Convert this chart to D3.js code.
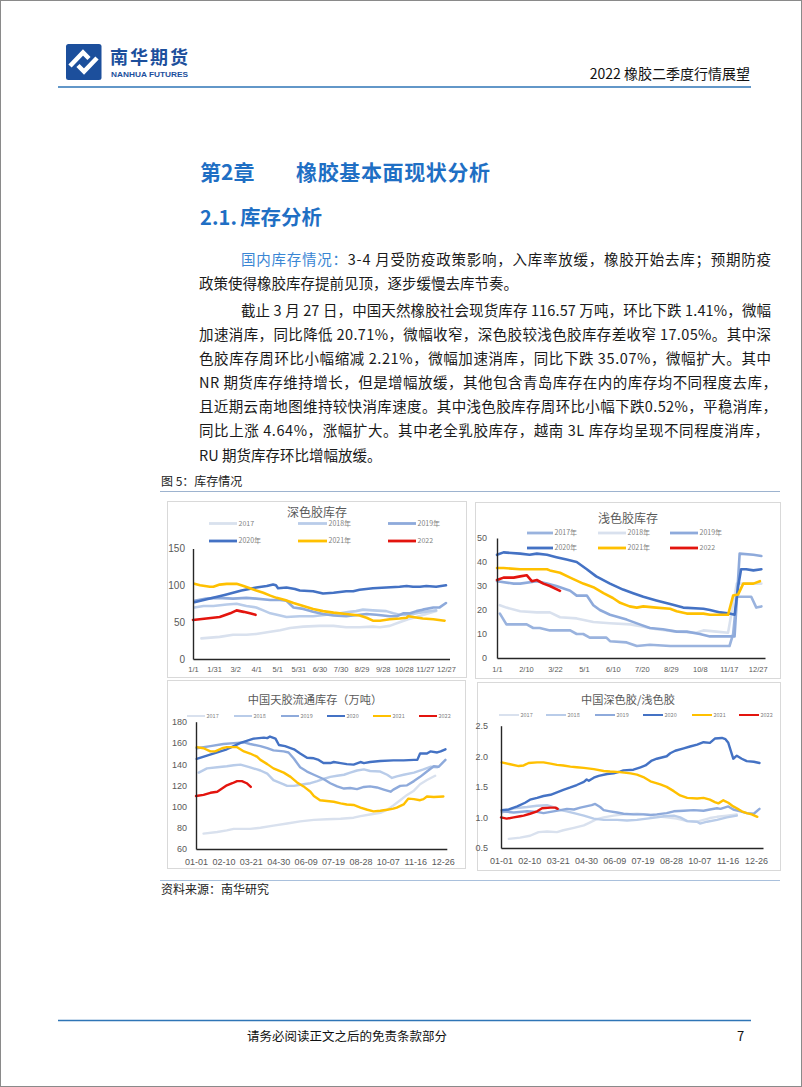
<!DOCTYPE html>
<html><head><meta charset="utf-8">
<script src="https://cdn.jsdelivr.net/npm/d3@7"></script>
<style>body{margin:0;background:#fff} svg{display:block}</style>
</head><body>
<svg id="page" width="802" height="1087"></svg>
<script>
// ---------- chart 1: 深色胶库存 (day of year, value) ----------
const dark2017 = [[12,28],[38,30],[57,33],[76,33],[90,34],[110,37],[124,39],[138,42],[157,44],[180,45],[200,45],[218,43],[237,43],[256,44],[266,43],[280,45],[294,50],[306,54],[318,57],[332,61],[346,65]];
const dark2018 = [[2,70],[15,72],[29,72],[48,74],[62,75],[76,72],[90,70],[100,66],[110,62],[124,59],[133,57],[152,58],[171,58],[190,60],[209,62],[223,64],[232,65],[242,67],[256,66],[275,65],[285,62],[294,60],[309,60],[323,63],[337,65],[346,66]];
const dark2019 = [[2,79],[19,82],[34,83],[57,82],[76,83],[90,82],[110,80],[124,80],[133,79],[143,70],[157,68],[171,64],[185,61],[200,59],[218,58],[237,60],[247,61],[261,60],[280,58],[290,58],[299,62],[309,62],[318,65],[327,67],[342,70],[351,70],[360,76]];
const dark2020 = [[2,77],[24,82],[45,87],[57,90],[69,93],[90,97],[105,99],[114,101],[118,100],[121,96],[133,97],[145,95],[152,93],[171,92],[185,89],[200,90],[218,92],[228,92],[237,94],[256,96],[275,97],[294,98],[304,99],[313,98],[323,98],[332,99],[346,98],[360,100]];
const dark2021 = [[2,102],[10,100],[24,98],[29,98],[38,101],[48,102],[62,102],[72,99],[81,96],[90,93],[100,90],[110,86],[119,83],[131,80],[143,76],[157,72],[171,68],[185,65],[200,63],[218,61],[237,59],[247,56],[256,52],[266,52],[280,54],[294,55],[304,56],[306,58],[313,57],[327,55],[342,54],[358,52]];
const dark2022 = [[0,53],[19,55],[38,57],[53,62],[62,66],[72,64],[81,62],[89,60]];
const darkTickDays = [0,30,60,90,120,150,180,210,240,270,300,330,360];
const darkTickLabels = ['1/1','1/31','3/2','4/1','5/1','5/31','6/30','7/30','8/29','9/28','10/28','11/27','12/27'];
const darkYTicks = [0,50,100,150];

// ---------- chart 2: 浅色胶库存 ----------
const light2017 = [[4,18.5],[13,14],[41,14],[50,12.5],[59,12.5],[73,11.5],[101,11.5],[110,10],[119,10],[128,8.5],[151,8.5],[156,7],[179,6.5],[193,5],[211,5.5],[239,5],[321,5],[326,10],[331,25.5],[351,25.5],[358,21],[365,21.5]];
const light2018 = [[4,22],[13,21],[32,19.5],[55,19],[73,19],[87,17],[110,16.5],[133,15],[156,14.5],[184,14],[202,13],[220,12],[248,11],[275,10.5],[285,11.5],[303,11],[319,10.5],[331,31],[354,31],[365,31]];
const light2019 = [[0,32],[23,31],[32,31],[55,32],[69,31],[82,30],[96,28.5],[101,28],[110,26],[124,26],[133,22],[142,20],[156,18],[179,16],[197,14],[211,12.5],[229,12],[248,11],[262,11],[280,10],[294,9],[321,9],[328,9],[335,43.5],[354,43],[365,42.5]];
const light2020 = [[0,43],[9,44],[32,43.5],[45,43],[55,43.5],[69,43],[82,42],[96,41],[110,40],[124,37],[137,34],[156,31],[174,28.5],[188,27],[202,25.5],[220,24],[239,22.5],[257,21],[285,20.5],[294,20],[308,19],[321,18.5],[328,18],[333,30],[337,37],[344,37],[354,36.5],[365,37]];
const light2021 = [[0,37.5],[9,37.5],[32,37],[55,37],[69,37],[73,36.5],[87,35.5],[101,33.5],[119,31],[133,29.5],[147,27],[160,25],[170,23],[183,21.5],[193,21],[202,21.5],[220,21],[239,20.5],[248,19.5],[262,18.5],[285,18.5],[294,18],[319,18],[326,26],[333,26.5],[340,31],[354,31],[363,32]];
const light2022 = [[0,32.5],[9,33.5],[23,33.5],[32,34],[41,34.5],[48,32],[55,32.5],[64,31],[73,30],[87,28]];
const lightTickDays = [0,40,80,120,160,200,240,280,320,360];
const lightTickLabels = ['1/1','2/10','3/22','5/1','6/10','7/20','8/29','10/8','11/17','12/27'];
const lightYTicks = [0,10,20,30,40,50];

// ---------- chart 3: 中国天胶流通库存（万吨） ----------
const total2017 = [[11,74.5],[31,76],[45,77.5],[55,79],[79,79],[94,80],[113,82],[133,84],[152,86],[172,87.5],[191,88],[211,88.5],[230,89.5],[240,91],[254,92.5],[269,94],[279,97],[288,101],[298,106],[308,111],[318,115],[327,121],[337,125],[349,129]];
const total2018 = [[4,132],[16,136],[31,137],[45,138],[55,139],[65,139.5],[79,137],[89,135],[94,134],[104,131],[113,125],[128,121],[133,119.5],[143,119.5],[157,121],[167,122],[177,124],[186,126],[196,128],[206,129],[216,130],[225,132],[235,134],[245,135],[254,133.5],[269,133],[279,130],[286,127],[293,128.5],[303,130],[318,132],[332,135],[342,137.5],[352,137]];
const total2019 = [[1,155],[21,157],[40,159],[60,160],[70,160.5],[79,159],[94,157],[104,155],[113,153],[128,152],[135,151],[143,145],[152,137],[162,133],[172,130],[186,126],[196,122],[206,119],[216,117],[225,117.5],[235,116.5],[245,118.5],[254,119],[264,118],[274,116],[284,114],[288,116],[298,119.5],[308,120],[318,124],[327,128],[337,133],[347,138],[354,137.5],[364,144]];
const total2020 = [[1,145],[16,148],[31,151],[45,154],[55,157],[65,160],[74,162],[84,164],[99,165],[104,164.5],[108,166],[116,164],[121,158],[130,157],[143,154],[152,150],[162,146],[172,145.5],[179,144],[186,141],[196,141],[201,142],[211,141],[220,140],[230,139.5],[240,142],[245,141],[254,142],[269,143],[288,143.5],[303,143.5],[318,144],[323,144],[327,150],[337,150],[342,152],[352,151],[357,152],[364,154]];
const total2021 = [[1,156],[11,155],[21,152],[28,152],[38,155],[45,156],[60,156],[70,152],[79,150],[89,147],[94,144],[104,140],[113,136],[128,132],[138,128],[147,123],[157,119],[167,114],[172,110],[181,106],[201,104.5],[211,103],[220,102],[230,101.5],[240,99],[250,97],[259,95.5],[269,96],[279,97],[288,98],[293,99],[303,102],[310,107.5],[318,107],[327,106],[332,107],[337,109.5],[347,109],[361,109.5]];
const total2022 = [[0,110],[11,111],[21,113],[31,114],[38,117],[45,120],[53,122],[60,124],[67,124],[74,122],[80,118.5]];
const weekTickDays = [0,40,80,120,160,200,240,280,320,360];
const weekTickLabels = ['01-01','02-10','03-21','04-30','06-09','07-19','08-28','10-07','11-16','12-26'];
const totalYTicks = [60,80,100,120,140,160,180];

// ---------- chart 4: 中国深色胶/浅色胶 ----------
const ratio2017 = [[11,0.65],[27,0.67],[41,0.70],[53,0.76],[65,0.77],[79,0.76],[88,0.79],[103,0.83],[117,0.87],[126,0.92],[135,0.97],[145,1.00],[159,1.03],[173,1.05],[192,1.06],[206,1.05],[220,1.02],[234,1.00],[248,0.98],[263,0.94],[277,0.93],[286,0.96],[295,0.99],[305,1.01],[319,1.03],[333,1.05]];
const ratio2018 = [[1,1.08],[18,1.15],[37,1.17],[51,1.19],[65,1.20],[74,1.17],[84,1.12],[93,1.10],[103,1.07],[117,1.03],[131,0.98],[145,0.96],[164,0.96],[178,0.95],[192,0.96],[206,0.98],[220,1.00],[230,1.02],[244,1.03],[253,1.00],[263,0.94],[277,0.93],[281,0.90],[291,0.93],[305,0.96],[319,1.00],[333,1.03]];
const ratio2019 = [[1,1.10],[18,1.08],[37,1.10],[51,1.09],[60,1.07],[74,1.10],[84,1.12],[93,1.14],[103,1.13],[112,1.16],[128,1.20],[133,1.22],[140,1.17],[145,1.12],[154,1.10],[164,1.08],[173,1.06],[187,1.05],[201,1.05],[211,1.04],[220,1.05],[234,1.07],[244,1.10],[258,1.11],[272,1.12],[286,1.11],[295,1.13],[305,1.15],[310,1.14],[321,1.18],[328,1.13],[338,1.10],[347,1.07],[357,1.06],[365,1.14]];
const ratio2020 = [[1,1.12],[11,1.13],[23,1.18],[34,1.24],[41,1.29],[51,1.32],[60,1.35],[70,1.37],[79,1.41],[88,1.45],[98,1.49],[107,1.53],[117,1.58],[121,1.62],[124,1.60],[131,1.65],[138,1.68],[150,1.71],[159,1.72],[168,1.75],[173,1.77],[187,1.78],[197,1.82],[204,1.85],[213,1.93],[220,1.96],[234,2.00],[239,2.05],[246,2.09],[258,2.13],[267,2.16],[277,2.19],[286,2.23],[295,2.22],[302,2.29],[312,2.30],[317,2.28],[321,2.22],[328,1.96],[333,2.01],[340,1.96],[347,1.92],[357,1.91],[365,1.89]];
const ratio2021 = [[1,1.90],[13,1.87],[25,1.84],[32,1.85],[39,1.89],[51,1.90],[60,1.90],[70,1.88],[79,1.86],[88,1.85],[98,1.83],[107,1.82],[117,1.81],[131,1.79],[145,1.76],[154,1.75],[168,1.74],[183,1.72],[192,1.70],[201,1.66],[211,1.59],[225,1.54],[234,1.50],[244,1.43],[253,1.36],[263,1.32],[277,1.31],[286,1.32],[295,1.29],[302,1.25],[307,1.23],[314,1.28],[321,1.24],[328,1.18],[333,1.15],[340,1.10],[347,1.07],[354,1.05],[362,1.01]];
const ratio2022 = [[0,1.00],[8,0.98],[18,1.00],[27,1.02],[32,1.03],[41,1.06],[51,1.10],[58,1.15],[70,1.16],[77,1.16],[80,1.14]];
const ratioYTicks = [0.5,1.0,1.5,2.0,2.5];

// ---------- page text ----------
const paraLines = [
  {pre:'国内库存情况：', t:'3-4 月受防疫政策影响，入库率放缓，橡胶开始去库；预期防疫', indent:true, just:true},
  {t:'政策使得橡胶库存提前见顶，逐步缓慢去库节奏。'},
  {t:'截止 3 月 27 日，中国天然橡胶社会现货库存 116.57 万吨，环比下跌 1.41%，微幅', indent:true, just:true},
  {t:'加速消库，同比降低 20.71%，微幅收窄，深色胶较浅色胶库存差收窄 17.05%。其中深', just:true},
  {t:'色胶库存周环比小幅缩减 2.21%，微幅加速消库，同比下跌 35.07%，微幅扩大。其中', just:true},
  {t:'NR 期货库存维持增长，但是增幅放缓，其他包含青岛库存在内的库存均不同程度去库，', just:true, end:777},
  {t:'且近期云南地图维持较快消库速度。其中浅色胶库存周环比小幅下跌0.52%，平稳消库，', just:true, end:777},
  {t:'同比上涨 4.64%，涨幅扩大。其中老全乳胶库存，越南 3L 库存均呈现不同程度消库，', just:true, end:769},
  {t:'RU 期货库存环比增幅放缓。'}
];
const paraBaselines = [264.5,288.5,315.5,339.5,363.5,387.5,411.5,435.5,460.5];

const CJK = '"Noto Sans CJK SC","Noto Sans",sans-serif';
const NUM = '"Liberation Sans","DejaVu Sans",sans-serif';
const svg = d3.select('#page');

// page frame
svg.append('rect').attr('x',0.5).attr('y',0.5).attr('width',801).attr('height',1086)
  .attr('fill','#fff').attr('stroke','#8a8a8a').attr('stroke-width',1);

// header logo
const logo = svg.append('g');
logo.append('rect').attr('x',66).attr('y',44).attr('width',35.5).attr('height',36).attr('rx',2.5).attr('fill','#1c4f9c');
logo.append('path').attr('d','M70,66 L83,52.5 L89,58.5').attr('fill','none').attr('stroke','#fff').attr('stroke-width',4.5);
logo.append('path').attr('d','M97,58 L84,71.5 L78,65.5').attr('fill','none').attr('stroke','#fff').attr('stroke-width',4.5);
svg.append('text').attr('x',110).attr('y',63.5).attr('font-family',CJK).attr('font-size',18)
  .attr('font-weight',700).attr('fill','#1c4f9c').attr('textLength',78).text('南华期货');
svg.append('text').attr('x',111).attr('y',77).attr('font-family',NUM).attr('font-size',7.5).attr('font-weight',700)
  .attr('fill','#1c4f9c').attr('textLength',77).attr('lengthAdjust','spacingAndGlyphs').text('NANHUA FUTURES');
svg.append('text').attr('x',750).attr('y',79).attr('text-anchor','end').attr('font-family',CJK)
  .attr('font-size',14).attr('fill','#111').text('2022 橡胶二季度行情展望');
svg.append('line').attr('x1',58).attr('x2',751).attr('y1',87).attr('y2',87).attr('stroke','#2e75b6').attr('stroke-width',1.5);

// headings
const HBLUE = '#1f6fc4';
svg.append('text').attr('x',200).attr('y',180).attr('font-family',CJK).attr('font-size',21)
  .attr('font-weight',700).attr('fill',HBLUE).text('第2章');
svg.append('text').attr('x',296).attr('y',180).attr('font-family',CJK).attr('font-size',21)
  .attr('font-weight',700).attr('fill',HBLUE).attr('textLength',194).text('橡胶基本面现状分析');
svg.append('text').attr('x',200).attr('y',225).attr('font-family',CJK).attr('font-size',20)
  .attr('font-weight',700).attr('fill',HBLUE).attr('textLength',37).text('2.1.');
svg.append('text').attr('x',240).attr('y',225).attr('font-family',CJK).attr('font-size',20.5)
  .attr('font-weight',700).attr('fill',HBLUE).text('库存分析');

// paragraph
paraLines.forEach((ln,i)=>{
  const x0 = ln.indent ? 241 : 199;
  const t = svg.append('text').attr('x',x0).attr('y',paraBaselines[i]).attr('font-family',CJK)
    .attr('font-size',14.5).attr('fill','#1a1a1a');
  if (ln.pre) t.append('tspan').attr('fill','#3a86d4').text(ln.pre);
  t.append('tspan').text(ln.t);
  if (ln.just) t.attr('textLength',(ln.end||771)-x0).attr('lengthAdjust','spacing');
});

// figure caption & rules
svg.append('text').attr('x',161).attr('y',485.5).attr('font-family',CJK).attr('font-size',12)
  .attr('fill','#222').text('图 5：库存情况');
svg.append('line').attr('x1',160).attr('x2',780).attr('y1',491.5).attr('y2',491.5).attr('stroke','#9db3cf').attr('stroke-width',1);
svg.append('line').attr('x1',160).attr('x2',780).attr('y1',880.5).attr('y2',880.5).attr('stroke','#a9c0dc').attr('stroke-width',1);
svg.append('text').attr('x',161).attr('y',893.5).attr('font-family',CJK).attr('font-size',12)
  .attr('fill','#222').text('资料来源：南华研究');

// footer
svg.append('line').attr('x1',58).attr('x2',751).attr('y1',1020.5).attr('y2',1020.5).attr('stroke','#2e75b6').attr('stroke-width',1.5);
svg.append('text').attr('x',347).attr('y',1041).attr('text-anchor','middle').attr('font-family',CJK)
  .attr('font-size',12.5).attr('fill','#111').text('请务必阅读正文之后的免责条款部分');
svg.append('text').attr('x',737).attr('y',1041).attr('font-family',CJK)
  .attr('font-size',13).attr('fill','#111').text('7');

// ---------- chart drawer ----------
const C = {y17:'#d9e1ee', y18:'#b9cce9', y19:'#8eaadb', y20:'#4472c4', y21:'#ffc000', y22:'#e3140e'};

function drawChart(c){
  const g = svg.append('g');
  g.append('rect').attr('x',c.box[0]+0.5).attr('y',c.box[1]+0.5).attr('width',c.box[2]).attr('height',c.box[3])
    .attr('fill','#fff').attr('stroke','#d9d9d9');
  const x = d3.scaleLinear().domain(c.xDomain).range(c.xRange);
  const y = d3.scaleLinear().domain(c.yDomain).range(c.yRange);
  g.append('text').attr('x',c.title[0]).attr('y',c.title[1]).attr('text-anchor','middle')
    .attr('font-family',CJK).attr('font-size',c.titleSize).attr('fill','#595959').text(c.title[2]);
  // legend
  c.legend.forEach(L=>{
    g.append('line').attr('x1',L.x1).attr('x2',L.x2).attr('y1',L.y).attr('y2',L.y)
      .attr('stroke',L.color).attr('stroke-width',c.legendWidth);
    g.append('text').attr('x',L.x2+1.5).attr('y',L.y).attr('dy','0.35em').attr('font-family',CJK)
      .attr('font-size',c.legendSize).attr('fill','#7f7f7f').text(L.label);
  });
  // series
  const line = d3.line().x(d=>x(d[0])).y(d=>y(d[1]));
  c.series.forEach(s=>{
    g.append('path').attr('d',line(s.data)).attr('fill','none').attr('stroke',s.color)
      .attr('stroke-width',c.lineWidth).attr('stroke-linejoin','round').attr('stroke-linecap','round');
  });
  // axes
  const ya = g.append('g').attr('transform',`translate(${c.xRange[0]},0)`)
    .call(d3.axisLeft(y).tickValues(c.yTicks).tickSize(0).tickPadding(c.yPad).tickFormat(c.yFmt));
  const xa = g.append('g').attr('transform',`translate(0,${c.yRange[0]})`)
    .call(d3.axisBottom(x).tickValues(c.xTicks).tickSize(0).tickPadding(c.xPad).tickFormat((d,i)=>c.xLabels[i]));
  [ya,xa].forEach(a=>{
    a.select('.domain').attr('stroke','#262626').attr('stroke-width',1.4);
    a.selectAll('text').attr('font-family',NUM).attr('fill','#595959');
  });
  ya.selectAll('text').attr('font-size',c.yFont);
  xa.selectAll('text').attr('font-size',c.xFont);
}

function legendRow(xs, y, labels, colors){
  return labels.map((l,i)=>({x1:xs[i][0], x2:xs[i][1], y:y, label:l, color:colors[i]}));
}

// chart 1
drawChart({
  box:[167,501,299,176], xDomain:[0,365], xRange:[193,449.5], yDomain:[0,150], yRange:[659,548.5],
  title:[317,517,'深色胶库存'], titleSize:12,
  legend: legendRow([[209,237],[298,327],[388,416]],523.5,['2017','2018年','2019年'],[C.y17,C.y18,C.y19])
    .concat(legendRow([[209,237],[298,327],[388,416]],541,['2020年','2021年','2022'],[C.y20,C.y21,C.y22])),
  legendWidth:2.8, legendSize:7, lineWidth:2.6,
  series:[{data:dark2017,color:C.y17},{data:dark2018,color:C.y18},{data:dark2019,color:C.y19},
          {data:dark2020,color:C.y20},{data:dark2021,color:C.y21},{data:dark2022,color:C.y22}],
  yTicks:darkYTicks, yFmt:d3.format('d'), yPad:8, yFont:10,
  xTicks:darkTickDays, xLabels:darkTickLabels, xPad:8, xFont:7.5
});

// chart 2
const c2017 = '#9ab3de';
drawChart({
  box:[475,502,305,176], xDomain:[0,370], xRange:[497,765], yDomain:[0,50], yRange:[658,538],
  title:[628,523,'浅色胶库存'], titleSize:12,
  legend: legendRow([[527,553],[598,626],[670,698]],533,['2017年','2018年','2019年'],[c2017,'#d9e1ee',C.y19])
    .concat(legendRow([[527,553],[598,626],[670,698]],548,['2020年','2021年','2022'],[C.y20,C.y21,C.y22])),
  legendWidth:2.8, legendSize:7, lineWidth:2.6,
  series:[{data:light2017,color:c2017},{data:light2018,color:'#d9e1ee'},{data:light2019,color:C.y19},
          {data:light2020,color:C.y20},{data:light2021,color:C.y21},{data:light2022,color:C.y22}],
  yTicks:lightYTicks, yFmt:d3.format('d'), yPad:10, yFont:9,
  xTicks:lightTickDays, xLabels:lightTickLabels, xPad:9, xFont:7.5
});

// chart 3
const row3 = [208,255,302,348,394,440];
drawChart({
  box:[167,680,298,188], xDomain:[0,366], xRange:[196,446.8], yDomain:[60,180], yRange:[849,721.7],
  title:[315,704,'中国天胶流通库存（万吨）'], titleSize:11.2,
  legend: row3.map((tx,i)=>({x1:tx-21, x2:tx-3, y:716, label:['2017','2018','2019','2020','2021','2022'][i],
    color:[C.y17,C.y18,C.y19,C.y20,C.y21,C.y22][i]})),
  legendWidth:2, legendSize:5.5, lineWidth:2.4,
  series:[{data:total2017,color:C.y17},{data:total2018,color:C.y18},{data:total2019,color:C.y19},
          {data:total2020,color:C.y20},{data:total2021,color:C.y21},{data:total2022,color:C.y22}],
  yTicks:totalYTicks, yFmt:d3.format('d'), yPad:9, yFont:9,
  xTicks:weekTickDays, xLabels:weekTickLabels, xPad:10, xFont:9
});

// chart 4
const row4 = [523,570,619,667,716,763];
drawChart({
  box:[477,682,303,188], xDomain:[0,370], xRange:[501,763], yDomain:[0.5,2.5], yRange:[848,725.7],
  title:[628,704,'中国深色胶/浅色胶'], titleSize:11.2,
  legend: row4.map((tx,i)=>({x1:tx-24, x2:tx-4, y:715, label:['2017','2018','2019','2020','2021','2022'][i],
    color:[C.y17,C.y18,C.y19,C.y20,C.y21,C.y22][i]})),
  legendWidth:2, legendSize:5.5, lineWidth:2.4,
  series:[{data:ratio2017,color:C.y17},{data:ratio2018,color:C.y18},{data:ratio2019,color:C.y19},
          {data:ratio2020,color:C.y20},{data:ratio2021,color:C.y21},{data:ratio2022,color:C.y22}],
  yTicks:ratioYTicks, yFmt:d3.format('.1f'), yPad:13, yFont:9,
  xTicks:weekTickDays, xLabels:weekTickLabels, xPad:10, xFont:9
});
</script>
</body></html>
